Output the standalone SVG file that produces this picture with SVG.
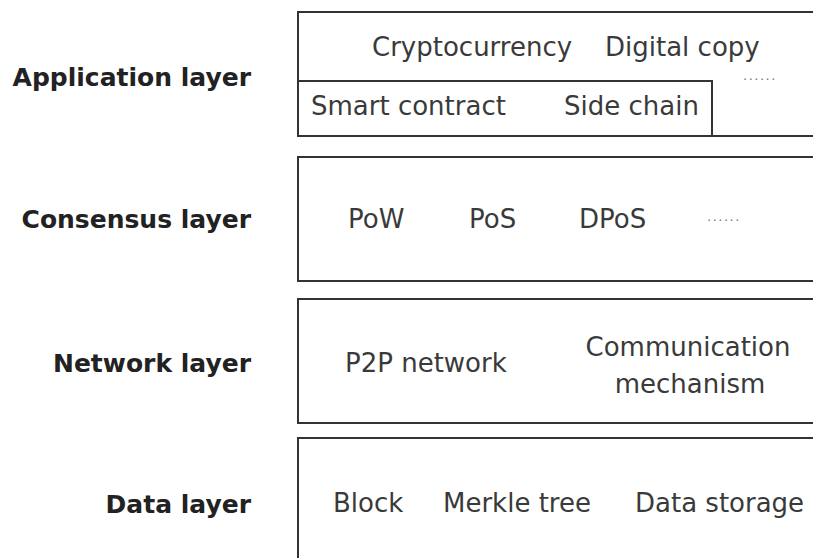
<svg xmlns="http://www.w3.org/2000/svg" width="813" height="558" viewBox="0 0 813 558">
<style>
.box{fill:none;stroke:#333;stroke-width:2}
.t{font-family:"DejaVu Sans","Liberation Sans",sans-serif;font-size:26px;fill:#3a3a3a}
.lbl{font-family:"DejaVu Sans","Liberation Sans",sans-serif;font-size:25px;font-weight:bold;fill:#222;text-anchor:end}
.dots{font-family:"DejaVu Sans","Liberation Sans",sans-serif;font-size:13px;fill:#777;letter-spacing:1.5px}
.c{text-anchor:middle}
</style>
<rect width="813" height="558" fill="#fff"/>
<g id="application">
<text class="lbl" x="251" y="86">Application layer</text>
<rect class="box" x="298" y="12" width="540" height="124"/>
<rect class="box" x="298" y="81" width="414" height="55"/>
<text class="t" x="372" y="56">Cryptocurrency</text>
<text class="t" x="605" y="56">Digital copy</text>
<text class="dots" x="743" y="80">......</text>
<text class="t" x="311" y="115">Smart contract</text>
<text class="t" x="564" y="115">Side chain</text>
</g>
<g id="consensus">
<text class="lbl" x="251" y="228">Consensus layer</text>
<rect class="box" x="298" y="157" width="540" height="124"/>
<text class="t" x="348" y="228">PoW</text>
<text class="t" x="469" y="228">PoS</text>
<text class="t" x="579" y="228">DPoS</text>
<text class="dots" x="707" y="221">......</text>
</g>
<g id="network">
<text class="lbl" x="251" y="372">Network layer</text>
<rect class="box" x="298" y="299" width="540" height="124"/>
<text class="t" x="345" y="372">P2P network</text>
<text class="t c" x="688" y="356">Communication</text>
<text class="t c" x="690" y="393">mechanism</text>
</g>
<g id="data">
<text class="lbl" x="251" y="513">Data layer</text>
<rect class="box" x="298" y="438" width="540" height="160"/>
<text class="t" x="333" y="512">Block</text>
<text class="t" x="443" y="512">Merkle tree</text>
<text class="t" x="635" y="512">Data storage</text>
</g>
<g id="connectors"/>
</svg>
